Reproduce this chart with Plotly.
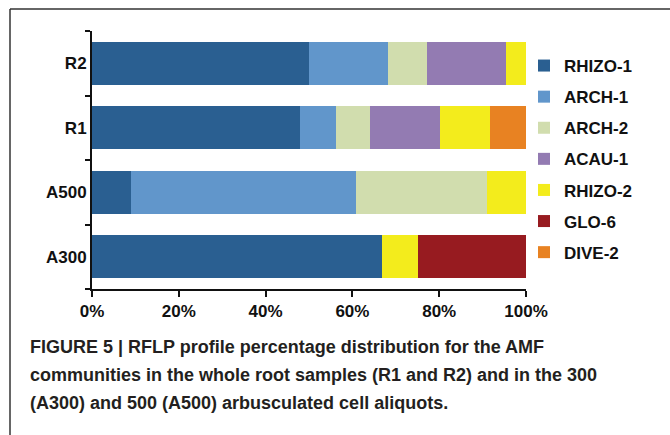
import plotly.graph_objects as go

# Samples (bottom to top on the axis)
samples = ["A300", "A500", "R1", "R2"]

# RFLP profile shares (%) per sample, in the order of `samples`
profiles = ["RHIZO-1", "ARCH-1", "ARCH-2", "ACAU-1", "RHIZO-2", "GLO-6", "DIVE-2"]
rhizo1 = [66.9, 9.0, 47.9, 50.0]
arch1 = [0.0, 51.8, 8.3, 18.3]
arch2 = [0.0, 30.3, 7.8, 9.0]
acau1 = [0.0, 0.0, 16.1, 18.1]
rhizo2 = [8.2, 8.9, 11.7, 4.6]
glo6 = [24.9, 0.0, 0.0, 0.0]
dive2 = [0.0, 0.0, 8.2, 0.0]
series = [rhizo1, arch1, arch2, acau1, rhizo2, glo6, dive2]

colors = ["#2a5f91", "#6196cb", "#d1ddae", "#937bb2", "#f3ec1c", "#971b20", "#e88222"]

x_ticks = [0, 20, 40, 60, 80, 100]
x_labels = ["0%", "20%", "40%", "60%", "80%", "100%"]

caption_lines = [
    "FIGURE 5 | RFLP profile percentage distribution for the AMF",
    "communities in the whole root samples (R1 and R2) and in the 300",
    "(A300) and 500 (A500) arbusculated cell aliquots.",
]

W, H = 670, 435
L, R, T, B = 92, 144, 31, 146
pw, ph = W - L - R, H - T - B


def px_x(x):
    return (x - L) / pw


def px_y(y):
    return (H - B - y) / ph


fig = go.Figure()
for name, vals, col in zip(profiles, series, colors):
    fig.add_trace(go.Bar(
        y=samples, x=vals, name=name, orientation="h",
        marker=dict(color=col, line=dict(width=0)),
        legendgroup=name,
    ))

bold = dict(family="Liberation Sans, Arial, sans-serif", size=17, color="#111", weight="bold")

fig.update_layout(
    width=W, height=H,
    margin=dict(l=L, r=R, t=T, b=B),
    paper_bgcolor="white", plot_bgcolor="white",
    barmode="stack", bargap=0.33,
    showlegend=True,
    legend=dict(
        x=px_x(524), xanchor="left", y=px_y(48), yanchor="top",
        font=bold, traceorder="grouped", tracegroupgap=6, itemwidth=30,
        bgcolor="rgba(0,0,0,0)",
    ),
    xaxis=dict(
        range=[0, 100], tickvals=x_ticks, ticktext=x_labels,
        showgrid=False, zeroline=False,
        showline=True, linecolor="#111", linewidth=2,
        ticks="outside", ticklen=6, tickwidth=2, tickcolor="#111",
        tickfont=bold,
    ),
    yaxis=dict(
        categoryorder="array", categoryarray=samples,
        showgrid=False, zeroline=False,
        showline=True, linecolor="#111", linewidth=2,
        ticks="outside", ticklen=5, tickwidth=2, tickcolor="#111",
        tickson="boundaries", tickfont=bold,
    ),
)

# Caption below the chart
cap_font = dict(family="Liberation Sans, Arial, sans-serif",
                size=18, color="#231f20", weight="bold")
for i, line in enumerate(caption_lines):
    fig.add_annotation(
        text=line, xref="paper", yref="paper",
        x=px_x(28), y=px_y(347 + 28 * i),
        xanchor="left", yanchor="middle", showarrow=False, font=cap_font,
    )

# Frame lines around the figure panel
fig.add_shape(type="line", xref="paper", yref="paper",
              x0=px_x(10), x1=px_x(W + 5), y0=px_y(9), y1=px_y(9),
              line=dict(color="#333", width=1.5))
fig.add_shape(type="line", xref="paper", yref="paper",
              x0=px_x(10), x1=px_x(10), y0=px_y(9), y1=px_y(H + 5),
              line=dict(color="#333", width=1.5))

fig.write_html("out.html")
